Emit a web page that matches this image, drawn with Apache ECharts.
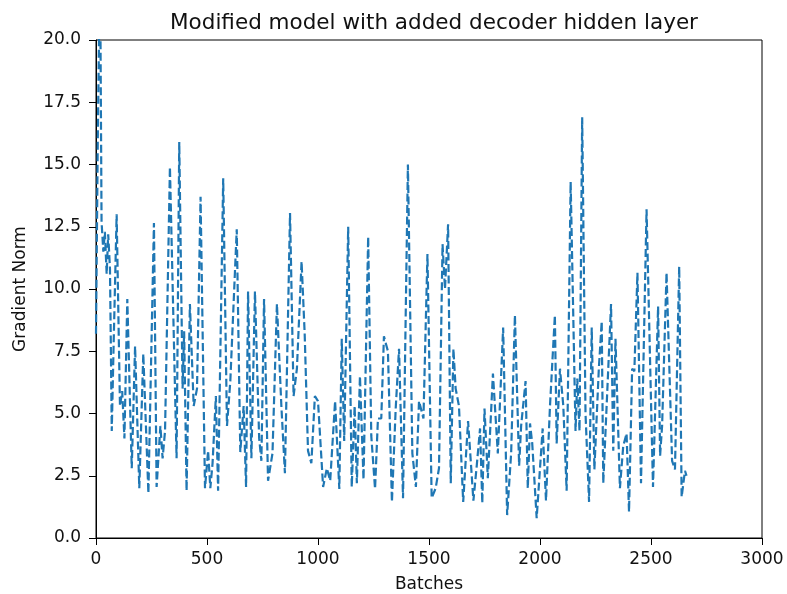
<!DOCTYPE html>
<html>
<head>
<meta charset="utf-8">
<script src="https://cdn.jsdelivr.net/npm/echarts@6/dist/echarts.min.js"></script>
<style>
  html, body { margin: 0; padding: 0; background: #fff; }
  #chart { width: 787px; height: 594px; }
</style>
</head>
<body>
<div id="chart"></div>
<script>
// batch index (x) and gradient norm (y)
const batches = [
  0, 8, 15, 20, 25, 33, 40, 48, 55, 63, 71, 80, 93, 108, 118, 128, 141, 161, 176, 195,
  213, 236, 261, 273, 290, 300, 311, 333, 363, 375, 390, 397, 408, 423, 440, 455, 471, 491, 505, 515,
  525, 540, 550, 573, 590, 605, 634, 650, 665, 676, 685, 700, 716, 735, 745, 757, 775, 795, 815, 835,
  851, 874, 890, 905, 926, 940, 955, 970, 986, 1000, 1023, 1040, 1055, 1077, 1096, 1107, 1118, 1136, 1152, 1165,
  1175, 1189, 1205, 1226, 1240, 1257, 1270, 1285, 1297, 1315, 1333, 1350, 1365, 1383, 1405, 1425, 1441, 1455, 1475, 1493,
  1512, 1530, 1545, 1561, 1572, 1586, 1598, 1610, 1620, 1635, 1654, 1676, 1700, 1715, 1730, 1740, 1750, 1765, 1788, 1810,
  1834, 1852, 1870, 1887, 1906, 1915, 1935, 1945, 1955, 1965, 1985, 2012, 2027, 2045, 2067, 2075, 2090, 2105, 2120, 2138,
  2160, 2168, 2178, 2190, 2205, 2221, 2233, 2245, 2265, 2278, 2285, 2305, 2320, 2330, 2340, 2360, 2375, 2390, 2401, 2415,
  2425, 2439, 2455, 2480, 2509, 2532, 2541, 2550, 2570, 2595, 2608, 2627, 2638, 2653, 2660
];
const gradNorm = [
  8.2, 16, 21, 20.5, 12.7, 11.5, 12.3, 10.6, 12.2, 10.8, 4.3, 8, 13.0, 5.3, 5.9, 4.0, 9.6, 2.8, 7.7, 2.0,
  7.4, 1.8, 12.65, 2.05, 4.5, 3.2, 4.3, 14.9, 3.2, 15.9, 6, 8.3, 1.9, 9.4, 5.3, 6, 13.7, 2.0, 3.5, 2.0,
  3.0, 5.7, 1.9, 14.45, 4.5, 6.3, 12.4, 3.45, 5.3, 2.05, 9.9, 3.2, 9.9, 4.0, 3.1, 9.6, 2.3, 3.4, 9.4, 5.3,
  2.6, 13.05, 5.7, 6.8, 11.1, 8.2, 3.5, 3.0, 5.7, 5.5, 2.05, 2.8, 2.3, 5.5, 1.97, 8.0, 3.9, 12.5, 2.05, 5.3,
  2.2, 6.5, 2.35, 12.1, 4.1, 1.97, 4.8, 4.8, 8.1, 7.5, 1.45, 5.2, 7.6, 1.6, 15.0, 3.4, 2.05, 5.5, 4.8, 11.4,
  1.6, 2.0, 2.8, 11.8, 10, 12.6, 2.2, 7.6, 6.0, 5.3, 1.45, 4.7, 1.5, 2.9, 4.4, 1.4, 5.2, 2.4, 6.6, 3.4,
  8.45, 0.92, 3.4, 8.95, 2.9, 4.5, 6.3, 2.0, 4.6, 3.8, 0.8, 4.4, 1.5, 5.3, 8.95, 3.8, 6.8, 5.3, 1.9, 14.3,
  4.3, 6.4, 4.3, 16.9, 5.0, 1.45, 8.45, 2.75, 6.8, 8.7, 2.2, 6.3, 9.4, 3.5, 8.0, 2.0, 3.7, 4.2, 1.05, 6.8,
  6.7, 10.65, 2.2, 13.2, 2.05, 9.3, 3.3, 4.5, 10.65, 3.1, 2.75, 10.9, 1.65, 2.7, 2.5
];

const chart = echarts.init(document.getElementById("chart"));
const font = "DejaVu Sans";

const option = {
  animation: false,
  title: {
    text: "Modified model with added decoder hidden layer",
    left: 429,
    textAlign: "center",
    top: 7,
    textStyle: { fontFamily: font, fontSize: 21.5, fontWeight: "normal", color: "#111" },
  },
  grid: {
    left: 96,
    right: 25,
    top: 40,
    bottom: 56,
    outerBoundsMode: "none", // keep the plot box where it is
    show: true,
    borderColor: "#000",
    borderWidth: 1,
  },
  xAxis: {
    type: "value",
    min: 0,
    max: 3000,
    interval: 500,
    name: "Batches",
    nameLocation: "middle",
    nameGap: 38,
    nameTextStyle: { fontFamily: font, fontSize: 17, color: "#111" },
    axisLine: { show: true, onZero: false, lineStyle: { color: "#000" } },
    axisTick: { show: true, inside: false, length: 7, lineStyle: { color: "#000" } },
    axisLabel: { fontFamily: font, fontSize: 17, color: "#111", margin: 13, formatter: (v) => String(v) },
    splitLine: { show: false },
  },
  yAxis: {
    type: "value",
    min: 0,
    max: 20,
    interval: 2.5,
    name: "Gradient Norm",
    nameLocation: "middle",
    nameGap: 67,
    nameTextStyle: { fontFamily: font, fontSize: 17, color: "#111" },
    axisLine: { show: true, lineStyle: { color: "#000" } },
    axisTick: { show: true, inside: false, length: 7, lineStyle: { color: "#000" } },
    axisLabel: {
      fontFamily: font, fontSize: 17, color: "#111", margin: 15,
      formatter: (v) => v.toFixed(1),
    },
    splitLine: { show: false },
  },
  series: [
    {
      type: "line",
      data: batches.map((b, i) => [b, gradNorm[i]]),
      showSymbol: false,
      clip: true,
      lineStyle: { color: "#1f77b4", width: 2.2, type: [8, 3.5] },
      itemStyle: { color: "#1f77b4" },
    },
  ],
};

chart.setOption(option);
</script>
</body>
</html>
